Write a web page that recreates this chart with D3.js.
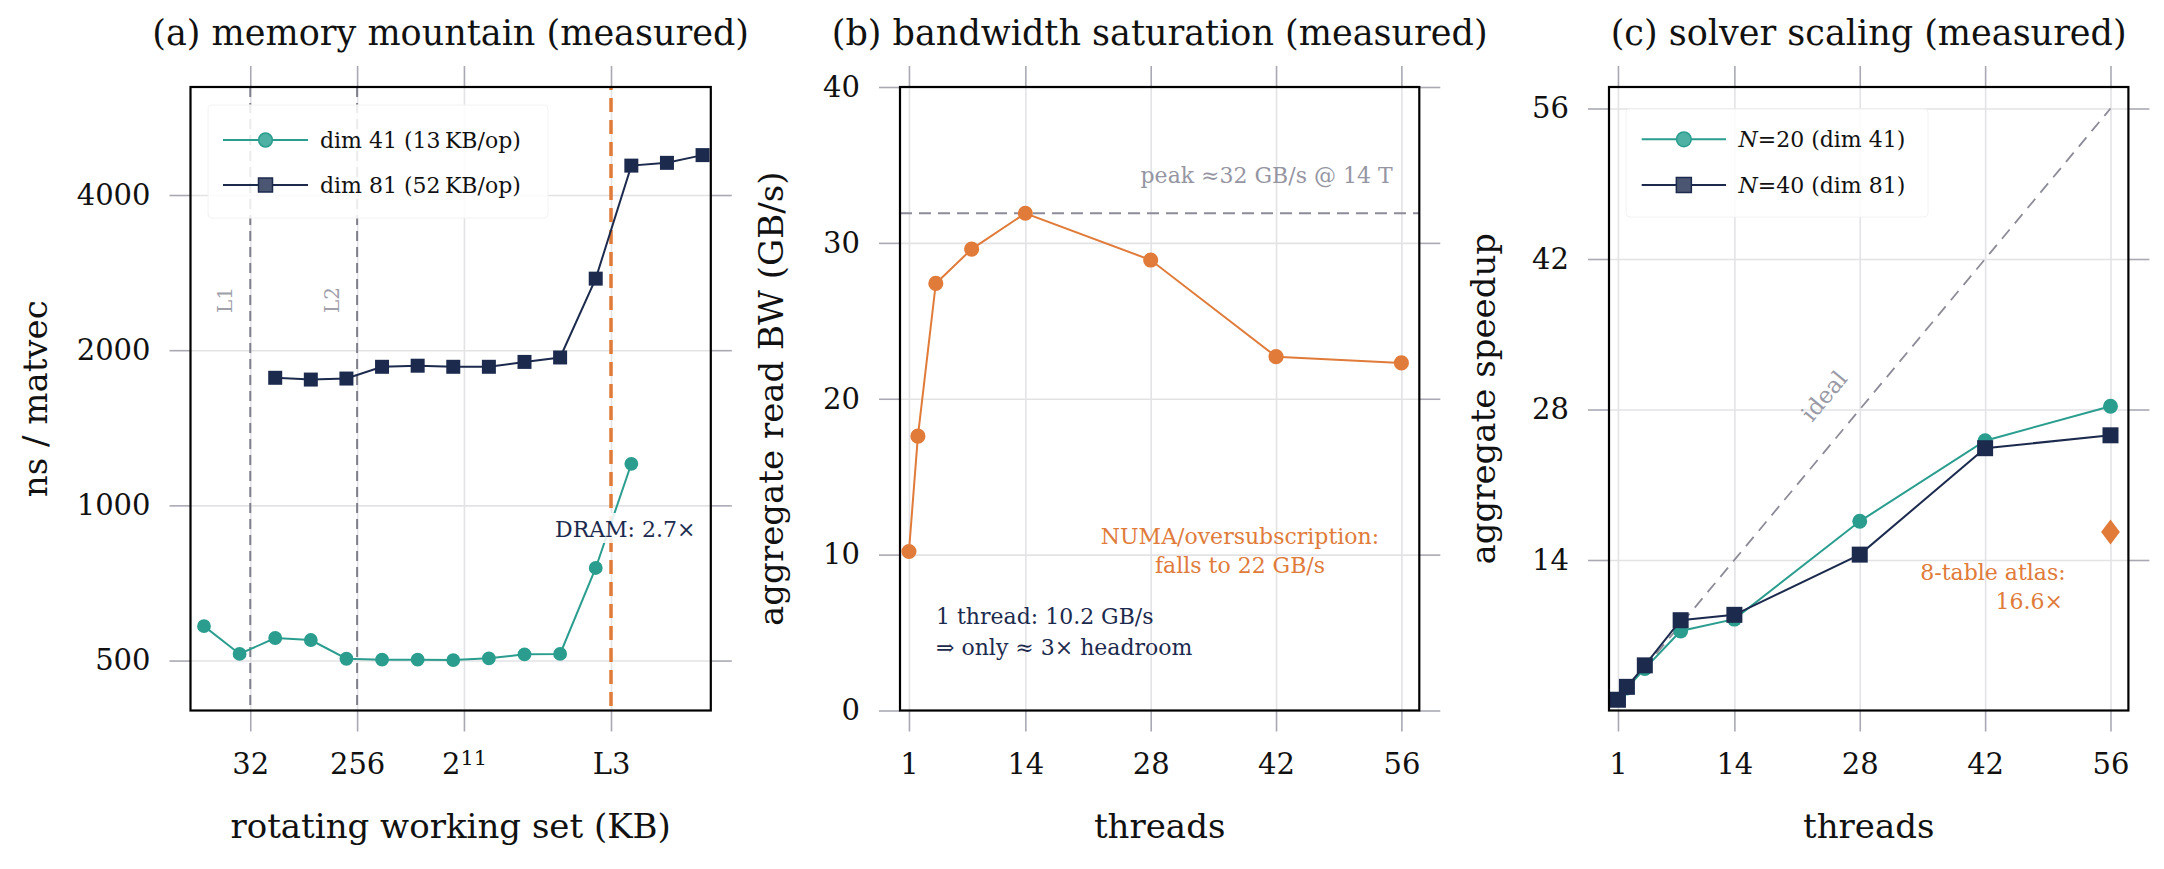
<!DOCTYPE html>
<html>
<head>
<meta charset="utf-8">
<script src="https://cdn.jsdelivr.net/npm/d3@7"></script>
<style>
body { margin: 0; background: #fff; }
svg text { font-family: "DejaVu Serif", serif; }
</style>
</head>
<body>
<svg></svg>
<script>
const width = 2164;
const height = 869;
const frameTop = 87;
const frameBottom = 710.5;
const tickLen = 21;

const teal = "#2a9d8f";
const navy = "#1c2a4e";
const orange = "#e07b39";
const gray = "#8c8c99";

// (a) memory mountain
const wsDim41 = [13, 26, 52, 104, 208, 416, 832, 1664, 3328, 6656, 13312, 26624, 53248];
const nsDim41 = [583, 515, 553, 548, 504, 502, 502, 501, 505, 514, 515, 756, 1204];
const wsDim81 = [52, 104, 208, 416, 832, 1664, 3328, 6656, 13312, 26624, 53248, 106496, 212992];
const nsDim81 = [1768, 1754, 1762, 1857, 1866, 1857, 1857, 1898, 1936, 2753, 4561, 4618, 4780];
const cacheNames = ["L1", "L2"];
const cacheKB = [32, 256];
const l3KB = 35840;
const memTicksX = [32, 256, 2048, 35840];
const memTicksY = [500, 1000, 2000, 4000];

// (b) bandwidth saturation
const bwThreads = [1, 2, 4, 8, 14, 28, 42, 56];
const bwGBs = [10.2, 17.6, 27.4, 29.6, 31.9, 28.9, 22.7, 22.3];
const bwPeak = 31.9;
const threadTicks = [1, 14, 28, 42, 56];
const bwTicksY = [0, 10, 20, 30, 40];

// (c) solver scaling
const solveThreads = [1, 2, 4, 8, 14, 28, 42, 56];
const speedupN20 = [1.0, 2.1, 3.9, 7.4, 8.5, 17.6, 25.1, 28.3];
const speedupN40 = [1.0, 2.2, 4.2, 8.4, 8.9, 14.5, 24.4, 25.6];
const idealThreads = [1, 56];
const atlasThreads = 56;
const atlasSpeedup = 16.6;
const speedupTicksY = [14, 28, 42, 56];

let svg = d3.select("svg").attr("width", width).attr("height", height);
svg.append("rect").attr("width", width).attr("height", height).attr("fill", "#fff");

function drawAxes(g, sx, sy, xTicks, yTicks, xFmt, yFmt) {
    const [x0, x1] = sx.range();
    const h = frameBottom - frameTop;
    const w = x1 - x0;
    // grid
    g.append("g").attr("class", "grid")
        .attr("transform", `translate(0, ${frameBottom})`)
        .call(d3.axisBottom(sx).tickValues(xTicks).tickSize(-h).tickFormat(""));
    g.append("g").attr("class", "grid")
        .attr("transform", `translate(${x0}, 0)`)
        .call(d3.axisLeft(sy).tickValues(yTicks).tickSize(-w).tickFormat(""));
    g.selectAll(".grid path").remove();
    g.selectAll(".grid line").attr("stroke", "#e3e3e6").attr("stroke-width", 1.6);

    // outward ticks on all four sides
    let bx = g.append("g").attr("class", "ax")
        .attr("transform", `translate(0, ${frameBottom})`)
        .call(d3.axisBottom(sx).tickValues(xTicks).tickSize(tickLen).tickPadding(22).tickFormat(xFmt));
    g.append("g").attr("class", "ax")
        .attr("transform", `translate(0, ${frameTop})`)
        .call(d3.axisTop(sx).tickValues(xTicks).tickSize(tickLen).tickFormat(""));
    g.append("g").attr("class", "ax")
        .attr("transform", `translate(${x0}, 0)`)
        .call(d3.axisLeft(sy).tickValues(yTicks).tickSize(tickLen).tickPadding(19).tickFormat(yFmt));
    g.append("g").attr("class", "ax")
        .attr("transform", `translate(${x1}, 0)`)
        .call(d3.axisRight(sy).tickValues(yTicks).tickSize(tickLen).tickFormat(""));
    g.selectAll(".ax path").remove();
    g.selectAll(".ax line").attr("stroke", "#a9a9b3").attr("stroke-width", 1.6);
    g.selectAll(".ax text")
        .attr("font-family", "DejaVu Serif, serif")
        .attr("font-size", 29)
        .attr("fill", "#111");
    return bx;
}

function drawFrame(g, sx) {
    const [x0, x1] = sx.range();
    g.append("rect")
        .attr("x", x0).attr("y", frameTop)
        .attr("width", x1 - x0).attr("height", frameBottom - frameTop)
        .attr("fill", "none").attr("stroke", "#000").attr("stroke-width", 2.2);
}

function drawLabels(g, sx, title, xLabel, yLabel, yLabelX) {
    const [x0, x1] = sx.range();
    const cx = (x0 + x1) / 2;
    g.append("text").attr("x", cx).attr("y", 45)
        .attr("text-anchor", "middle").attr("font-size", 35).attr("fill", "#111")
        .text(title);
    g.append("text").attr("x", cx).attr("y", 838)
        .attr("text-anchor", "middle").attr("font-size", 34).attr("fill", "#111")
        .text(xLabel);
    g.append("text")
        .attr("transform", `translate(${yLabelX}, ${(frameTop + frameBottom) / 2}) rotate(-90)`)
        .attr("text-anchor", "middle").attr("font-size", 34).attr("fill", "#111")
        .text(yLabel);
}

function drawSeries(g, sx, sy, xs, ys, color, shape, size) {
    const pts = xs.map((x, i) => [x, ys[i]]);
    g.append("path")
        .attr("d", d3.line().x(d => sx(d[0])).y(d => sy(d[1]))(pts))
        .attr("fill", "none").attr("stroke", color).attr("stroke-width", 2);
    g.selectAll(null).data(pts).join("path")
        .attr("transform", d => `translate(${sx(d[0])}, ${sy(d[1])})`)
        .attr("d", d3.symbol().type(shape).size(size))
        .attr("fill", color);
}

function drawLegend(g, box, rows) {
    g.append("rect")
        .attr("x", box.x).attr("y", box.y).attr("width", box.w).attr("height", box.h)
        .attr("rx", 4).attr("fill", "#fff").attr("fill-opacity", 0.85)
        .attr("stroke", "#f2f2f2");
    rows.forEach((r, i) => {
        const y = box.rowY[i];
        g.append("line")
            .attr("x1", box.lineX[0]).attr("x2", box.lineX[1])
            .attr("y1", y).attr("y2", y)
            .attr("stroke", r.color).attr("stroke-width", 2);
        g.append("path")
            .attr("transform", `translate(${(box.lineX[0] + box.lineX[1]) / 2}, ${y})`)
            .attr("d", d3.symbol().type(r.shape).size(r.size))
            .attr("fill", r.fill).attr("stroke", r.color).attr("stroke-width", 1.5);
        let t = g.append("text").attr("x", box.textX).attr("y", y).attr("dy", "0.35em")
            .attr("font-size", 22).attr("fill", "#111");
        r.text(t);
    });
}

// ---------- (a) memory mountain ----------
const gA = svg.append("g");
const sxA = d3.scaleLog().base(2).domain([10, 250000]).range([190.5, 710.8]);
const syA = d3.scaleLog().base(2).domain([400, 6480]).range([frameBottom, frameTop]);
const fmtA = d => d === l3KB ? "L3" : d === 2048 ? "2" : String(d);
let axA = drawAxes(gA, sxA, syA, memTicksX, memTicksY, fmtA, d => String(d));
axA.selectAll("text").filter(d => d === 2048)
    .append("tspan").attr("dy", "-0.42em").attr("font-size", "0.72em").text("11");

cacheKB.forEach((kb, i) => {
    gA.append("line")
        .attr("x1", sxA(kb)).attr("x2", sxA(kb)).attr("y1", frameTop).attr("y2", frameBottom)
        .attr("stroke", "#80808c").attr("stroke-width", 2).attr("stroke-dasharray", "10,6");
    gA.append("text")
        .attr("transform", `translate(${sxA(kb) - 25}, 300) rotate(-90)`)
        .attr("text-anchor", "middle").attr("dy", "0.35em")
        .attr("font-size", 20).attr("fill", "#a0a0ab")
        .text(cacheNames[i]);
});
gA.append("line")
    .attr("x1", sxA(l3KB)).attr("x2", sxA(l3KB)).attr("y1", frameTop).attr("y2", frameBottom)
    .attr("stroke", orange).attr("stroke-width", 3.5).attr("stroke-dasharray", "14,8")
    .attr("stroke-dashoffset", -11);

drawSeries(gA, sxA, syA, wsDim41, nsDim41, teal, d3.symbolCircle, 150);
drawSeries(gA, sxA, syA, wsDim81, nsDim81, navy, d3.symbolSquare, 196);

gA.append("rect").attr("x", 549).attr("y", 513).attr("width", 151).attr("height", 30)
    .attr("fill", "#fff").attr("fill-opacity", 0.85);
gA.append("text").attr("x", 555).attr("y", 537)
    .attr("font-size", 22).attr("fill", navy).text("DRAM: 2.7\u00d7");

drawLegend(gA, {x: 208, y: 105, w: 340, h: 113, rowY: [140, 185], lineX: [223, 308], textX: 320}, [
    {color: teal, fill: "#4fb0a4", shape: d3.symbolCircle, size: 150,
     text: t => t.text("dim 41 (13\u2009KB/op)")},
    {color: navy, fill: "#4a5672", shape: d3.symbolSquare, size: 196,
     text: t => t.text("dim 81 (52\u2009KB/op)")}
]);
drawFrame(gA, sxA);
drawLabels(gA, sxA, "(a) memory mountain (measured)", "rotating working set (KB)", "ns / matvec", 47);

// ---------- (b) bandwidth saturation ----------
const gB = svg.append("g");
const sxB = d3.scaleLinear().domain([0, 58]).range([900, 1419.3]);
const syB = d3.scaleLinear().domain([0, 40]).range([frameBottom, frameTop]);
drawAxes(gB, sxB, syB, threadTicks, bwTicksY, d => String(d), d => String(d));

gB.append("line")
    .attr("x1", sxB.range()[0]).attr("x2", sxB.range()[1])
    .attr("y1", syB(bwPeak)).attr("y2", syB(bwPeak))
    .attr("stroke", gray).attr("stroke-width", 2).attr("stroke-dasharray", "12,7");
gB.append("text").attr("x", 1392.6).attr("y", 183).attr("text-anchor", "end")
    .attr("font-size", 22).attr("fill", "#9696a3").text("peak \u224832 GB/s @ 14 T");

drawSeries(gB, sxB, syB, bwThreads, bwGBs, orange, d3.symbolCircle, 180);

gB.append("text").attr("x", 1240).attr("y", 536.5).attr("dy", "0.35em").attr("text-anchor", "middle")
    .attr("font-size", 22).attr("fill", orange).text("NUMA/oversubscription:");
gB.append("text").attr("x", 1240).attr("y", 565.3).attr("dy", "0.35em").attr("text-anchor", "middle")
    .attr("font-size", 22).attr("fill", orange).text("falls to 22 GB/s");
gB.append("text").attr("x", 936).attr("y", 616).attr("dy", "0.35em")
    .attr("font-size", 22).attr("fill", navy).text("1 thread: 10.2 GB/s");
gB.append("text").attr("x", 936).attr("y", 647).attr("dy", "0.35em")
    .attr("font-size", 22).attr("fill", navy).text("\u21d2 only \u2248 3\u00d7 headroom");

drawFrame(gB, sxB);
drawLabels(gB, sxB, "(b) bandwidth saturation (measured)", "threads", "aggregate read BW (GB/s)", 783);

// ---------- (c) solver scaling ----------
const gC = svg.append("g");
const sxC = d3.scaleLinear().domain([0, 58]).range([1609, 2128.4]);
const syC = d3.scaleLinear().domain([0, 58]).range([frameBottom, frameTop]);
drawAxes(gC, sxC, syC, threadTicks, speedupTicksY, d => String(d), d => String(d));

gC.append("line")
    .attr("x1", sxC(idealThreads[0])).attr("y1", syC(idealThreads[0]))
    .attr("x2", sxC(idealThreads[1])).attr("y2", syC(idealThreads[1]))
    .attr("stroke", gray).attr("stroke-width", 1.8).attr("stroke-dasharray", "12,8");
const idealAngle = Math.atan2(syC(0) - syC(1), sxC(1) - sxC(0)) * 180 / Math.PI;
gC.append("text")
    .attr("transform", `translate(1824, 396) rotate(${-idealAngle})`)
    .attr("text-anchor", "middle").attr("dy", "0.35em")
    .attr("font-size", 23).attr("fill", "#9a9aa6").text("ideal");

drawSeries(gC, sxC, syC, solveThreads, speedupN20, teal, d3.symbolCircle, 175);
drawSeries(gC, sxC, syC, solveThreads, speedupN40, navy, d3.symbolSquare, 256);

gC.append("path")
    .attr("transform", `translate(${sxC(atlasThreads)}, ${syC(atlasSpeedup)}) scale(0.75, 1)`)
    .attr("d", d3.symbol().type(d3.symbolDiamond2).size(400))
    .attr("fill", orange);
gC.append("text").attr("x", 2065.6).attr("y", 572).attr("dy", "0.35em").attr("text-anchor", "end")
    .attr("font-size", 22).attr("fill", orange).text("8-table atlas:");
gC.append("text").attr("x", 2063).attr("y", 601).attr("dy", "0.35em").attr("text-anchor", "end")
    .attr("font-size", 22).attr("fill", orange).text("16.6\u00d7");

drawLegend(gC, {x: 1626, y: 109, w: 302, h: 108, rowY: [139.3, 185], lineX: [1641.7, 1726], textX: 1738.5}, [
    {color: teal, fill: "#4fb0a4", shape: d3.symbolCircle, size: 170,
     text: t => { t.append("tspan").attr("font-style", "italic").text("N"); t.append("tspan").text("=20 (dim 41)"); }},
    {color: navy, fill: "#4a5672", shape: d3.symbolSquare, size: 225,
     text: t => { t.append("tspan").attr("font-style", "italic").text("N"); t.append("tspan").text("=40 (dim 81)"); }}
]);
drawFrame(gC, sxC);
drawLabels(gC, sxC, "(c) solver scaling (measured)", "threads", "aggregate speedup", 1495);
</script>
</body>
</html>
